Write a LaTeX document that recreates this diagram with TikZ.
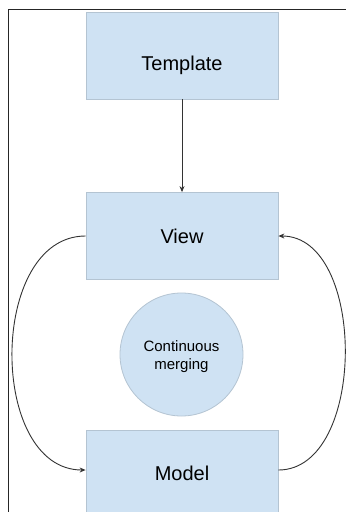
\documentclass[tikz,border=0pt]{standalone}
\usepackage{fontspec}
\setmainfont{Liberation Sans}
\usetikzlibrary{arrows.meta}
\definecolor{boxfill}{HTML}{CFE2F3}
\definecolor{boxedge}{HTML}{B4C4D2}
\definecolor{linecol}{HTML}{333333}
\begin{document}
\begin{tikzpicture}[x=1pt,y=-1pt,
  box/.style={draw=boxedge,fill=boxfill,line width=0.8pt,minimum width=192pt,minimum height=87pt,inner sep=0pt,font=\fontsize{20}{24}\selectfont},
  merge/.style={circle,draw=boxedge,fill=boxfill,line width=0.8pt,minimum size=123pt,inner sep=0pt,align=center,font=\fontsize{15}{18}\selectfont},
  conn/.style={draw=linecol,line width=0.9pt,-{Stealth[length=6pt,width=5pt]}}]
\useasboundingbox (0,0) rectangle (346,512);
\fill[white] (0,0) rectangle (346,512);
\draw[draw=black!85,line width=1.8pt] (8.5,512) -- (8.5,9.5) -- (346,9.5);
\node[box,text height=33.5pt,text depth=4.2pt] (template) at (182,55.5) {Template};
\node[box] (view) at (182,236) {View};
\node[merge] (merge) at (181.5,354.5) {\rule{0pt}{16pt}Continuous\\merging};
\node[box] (model) at (182,473.5) {Model};
\draw[conn] (template.south) -- (view.north);
\draw[conn] (view.west) .. controls (-12,236) and (-12,470) .. (model.west |- 0,470);
\draw[conn] (model.east |- 0,470) .. controls (367,470) and (367,236) .. (view.east);
\end{tikzpicture}
\end{document}
